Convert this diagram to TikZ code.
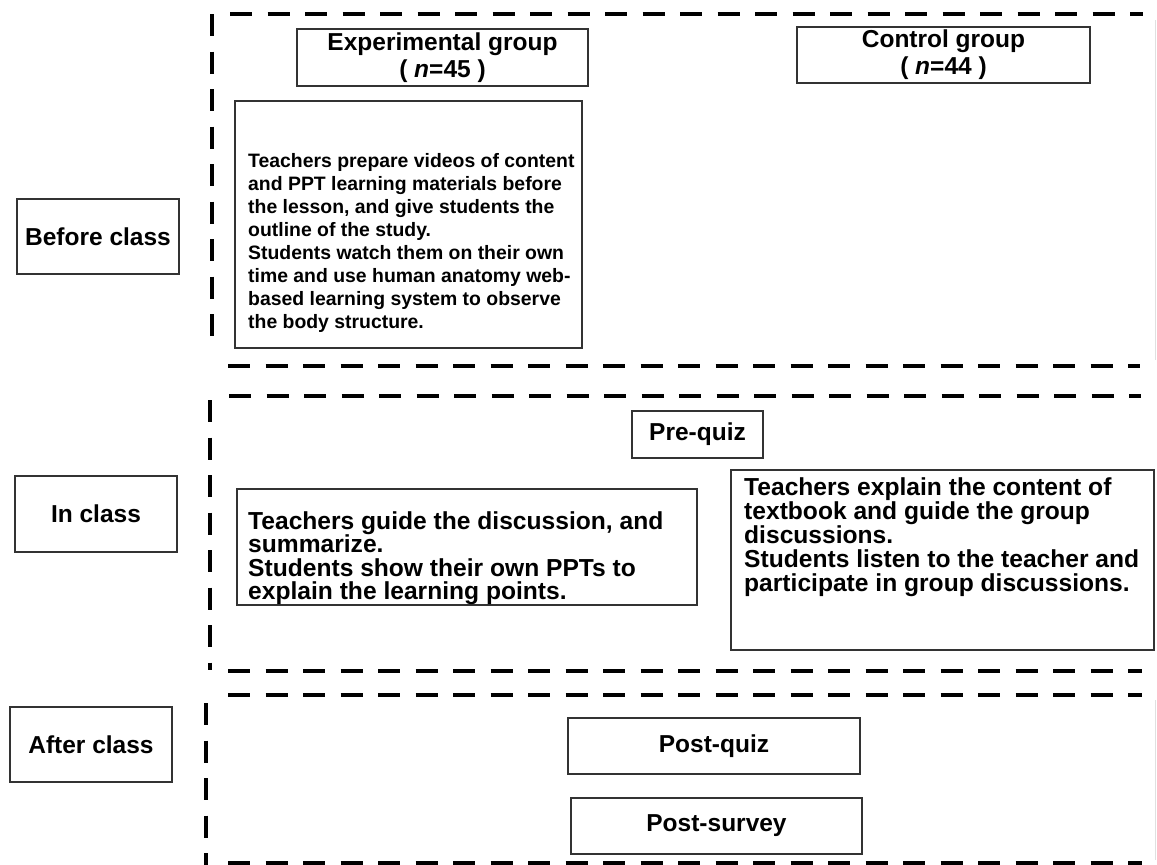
\documentclass[tikz,border=0pt]{standalone}
\usepackage{fontspec}
\setmainfont{Liberation Sans}
\begin{document}
\begin{tikzpicture}[x=1pt,y=-1pt,
  sect/.style={line width=4.5pt, dash pattern=on 22pt off 15.5pt},
  faint/.style={line width=0.8pt, black!12},
  box/.style={draw=black!80, line width=1.2pt, inner sep=0pt, align=center,
    font=\fontsize{24.5}{27}\selectfont\bfseries},
  txt/.style={inner sep=0pt, align=left, anchor=north west}
]
\useasboundingbox (0,0) rectangle (1157,865);

% section frames
\coordinate (s1tl) at (230,14);  \coordinate (s1tr) at (1143,14);
\coordinate (s1lt) at (212,14);  \coordinate (s1lb) at (212,336);
\coordinate (s1bl) at (228,366); \coordinate (s1br) at (1140,366);
\coordinate (s2tl) at (229,396); \coordinate (s2tr) at (1141,396);
\coordinate (s2lt) at (210,400); \coordinate (s2lb) at (210,670);
\coordinate (s2bl) at (228,671); \coordinate (s2br) at (1142,671);
\coordinate (s3tl) at (228,695); \coordinate (s3tr) at (1142,695);
\coordinate (s3lt) at (206,703); \coordinate (s3lb) at (206,865);
\coordinate (s3bl) at (228,863); \coordinate (s3br) at (1142,863);
\draw[sect] (s1tl) -- (s1tr);
\draw[sect] (s1lt) -- (s1lb);
\draw[sect] (s1bl) -- (s1br);
\draw[sect] (s2tl) -- (s2tr);
\draw[sect] (s2lt) -- (s2lb);
\draw[sect] (s2bl) -- (s2br);
\draw[sect] (s3tl) -- (s3tr);
\draw[sect] (s3lt) -- (s3lb);
\draw[sect] (s3bl) -- (s3br);
\coordinate (r1t) at (1155,20); \coordinate (r1b) at (1155,360);
\coordinate (r3t) at (1155,700); \coordinate (r3b) at (1155,860);
\draw[faint] (r1t) -- (r1b);
\draw[faint] (r3t) -- (r3b);

% phase labels
\node[box, minimum width=162pt, minimum height=75pt] (before) at (98,236.5) {Before class};
\node[box, minimum width=162pt, minimum height=76pt] (inclass) at (96,514) {In class};
\node[box, minimum width=162pt, minimum height=75pt] (after) at (91,744.5) {After class};

% groups
\node[box, minimum width=291pt, minimum height=57pt] (expg) at (442.5,57.5)
  {Experimental group\\( \textit{n}=45 )};
\node[box, minimum width=293pt, minimum height=56pt] (ctrlg) at (943.5,55)
  {Control group\\( \textit{n}=44 )};

% before class content
\node[box, minimum width=347pt, minimum height=247pt] (bcbox) at (408.5,224.5) {};
\node[txt, font=\fontsize{19.4}{23}\selectfont\bfseries] (bctext) at (248,153)
  {Teachers prepare videos of content\\
   and PPT learning materials before\\
   the lesson, and give students the\\
   outline of the study.\\
   Students watch them on their own\\
   time and use human anatomy web-\\
   based learning system to observe\\
   the body structure.};

% in class
\node[box, minimum width=131pt, minimum height=47pt] (prequiz) at (697.5,434.5) {Pre-quiz};
\node[box, minimum width=460pt, minimum height=116pt] (expin) at (467,547) {};
\node[txt, font=\fontsize{24.6}{23.5}\selectfont\bfseries] (expintext) at (248,511)
  {Teachers guide the discussion, and\\
   summarize.\\
   Students show their own PPTs to\\
   explain the learning points.};
\node[box, minimum width=423pt, minimum height=180pt] (ctrlin) at (942.5,560) {};
\node[txt, font=\fontsize{24.6}{24}\selectfont\bfseries] (ctrlintext) at (744,477)
  {Teachers explain the content of\\
   textbook and guide the group\\
   discussions.\\
   Students listen to the teacher and\\
   participate in group discussions.};

% after class
\node[box, minimum width=292pt, minimum height=56pt] (postquiz) at (714,746) {Post-quiz};
\node[box, minimum width=291pt, minimum height=56pt] (postsurvey) at (716.5,826) {Post-survey};
\end{tikzpicture}
\end{document}
